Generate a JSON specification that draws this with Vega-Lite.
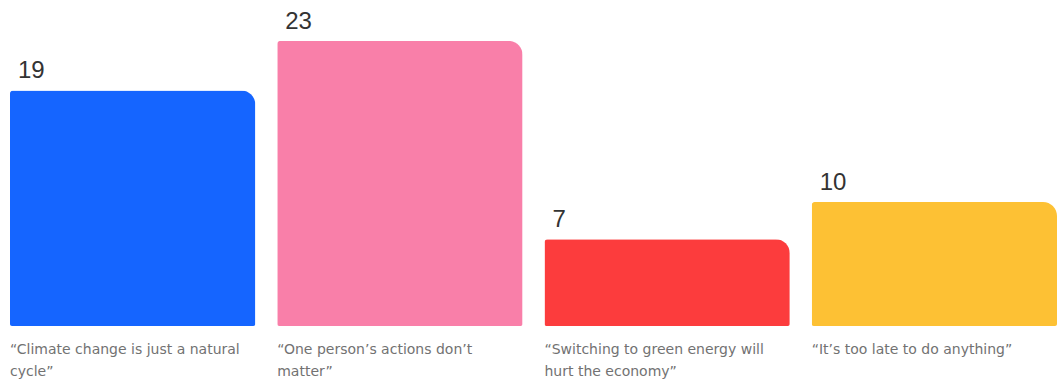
{
  "$schema": "https://vega.github.io/schema/vega-lite/v6.json",
  "width": 1047,
  "height": 326,
  "autosize": {"type": "none"},
  "padding": {"left": 10, "top": 0, "right": 0, "bottom": 59},
  "background": "white",
  "config": {"view": {"stroke": null}},
  "data": {
    "values": [
      {"cat": "“Climate change is just a natural\ncycle”", "value": 19, "color": "#1565ff", "order": 1},
      {"cat": "“One person’s actions don’t\nmatter”", "value": 23, "color": "#f97fa9", "order": 2},
      {"cat": "“Switching to green energy will\nhurt the economy”", "value": 7, "color": "#fc3c3d", "order": 3},
      {"cat": "“It’s too late to do anything”", "value": 10, "color": "#fdc134", "order": 4}
    ]
  },
  "encoding": {
    "x": {
      "field": "cat",
      "type": "nominal",
      "sort": {"field": "order"},
      "scale": {"paddingInner": 0.082, "paddingOuter": 0},
      "axis": null
    }
  },
  "layer": [
    {
      "mark": {
        "type": "bar",
        "cornerRadiusTopRight": 14,
        "cornerRadiusTopLeft": 3,
        "cornerRadiusBottomLeft": 2,
        "cornerRadiusBottomRight": 2
      },
      "encoding": {
        "y": {"field": "value", "type": "quantitative", "scale": {"domain": [0, 26.3], "nice": false}, "axis": null},
        "color": {"field": "color", "type": "nominal", "scale": null, "legend": null}
      }
    },
    {
      "mark": {
        "type": "text",
        "align": "left",
        "baseline": "alphabetic",
        "dx": 8,
        "dy": -12,
        "fontSize": 24,
        "font": "Liberation Sans",
        "color": "#333333"
      },
      "encoding": {
        "x": {"field": "cat", "type": "nominal", "sort": {"field": "order"}, "bandPosition": 0},
        "y": {"field": "value", "type": "quantitative"},
        "text": {"field": "value", "type": "quantitative"}
      }
    },
    {
      "mark": {
        "type": "text",
        "align": "left",
        "baseline": "top",
        "dx": 0,
        "dy": 17,
        "fontSize": 14,
        "lineHeight": 22,
        "lineBreak": "\n",
        "font": "DejaVu Sans",
        "color": "#727272"
      },
      "encoding": {
        "x": {"field": "cat", "type": "nominal", "sort": {"field": "order"}, "bandPosition": 0},
        "y": {"datum": 0, "type": "quantitative"},
        "text": {"field": "cat", "type": "nominal"}
      }
    }
  ]
}
